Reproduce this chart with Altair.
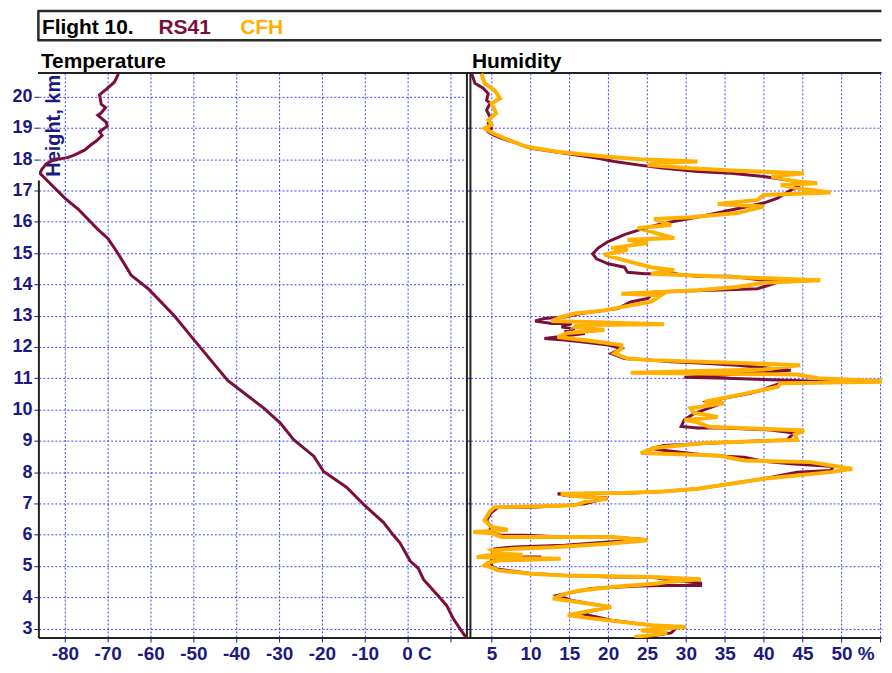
import altair as alt
import pandas as pd

# ---------------- data ----------------
temp_h = [20.73, 20.47, 20.24, 20.06, 19.76, 19.65, 19.47, 19.41, 19.18, 19.06, 18.88, 18.76,
          18.59, 18.47, 18.29, 18.14, 18.06, 18.02, 18.0, 17.86, 17.67, 17.55, 17.29, 16.76,
          16.41, 15.76, 15.46, 14.99, 14.29, 13.87, 12.99, 12.22, 10.93, 10.69, 10.04, 9.57,
          9.04, 8.51, 8.02, 7.51, 6.92, 6.39, 5.98, 5.74, 5.16, 4.92, 4.57, 4.10, 3.74, 3.33,
          2.92, 2.70]
temp_t = [-67.5, -68.4, -70.3, -71.9, -71.5, -70.5, -71.6, -72.3, -70.3, -70.1, -71.9, -71.3,
          -72.6, -73.8, -75.4, -77.7, -79.2, -80.8, -82.3, -84.3, -85.4, -85.8, -83.9, -80.0,
          -76.9, -72.3, -69.9, -67.6, -64.5, -60.6, -54.4, -49.8, -42.0, -39.7, -33.5, -29.7,
          -26.6, -21.9, -19.6, -14.2, -9.9, -5.6, -3.3, -1.8, 0.6, 2.5, 3.7, 6.8, 9.1, 10.6,
          12.6, 13.7]

rs41_h = [20.74, 20.43, 20.27, 20.10, 19.89, 19.79, 19.57, 19.36, 19.15, 18.99, 18.88, 18.78,
          18.67, 18.53, 18.35, 18.24, 18.14, 18.03, 17.93, 17.82, 17.71, 17.61, 17.55, 17.45,
          17.29, 17.18, 16.97, 16.76, 16.60, 16.44, 16.33, 16.22, 16.09, 15.96, 15.80, 15.59,
          15.37, 15.16, 14.98, 14.82, 14.66, 14.55, 14.39, 14.34, 14.34, 14.26, 14.26, 14.13,
          14.13, 13.86, 13.81, 13.76, 13.55, 13.44, 13.23, 13.17, 13.07, 12.96, 12.91, 12.83,
          12.75, 12.75, 12.64, 12.59, 12.48, 12.43, 12.35, 12.27, 12.22, 12.17, 12.06, 11.95,
          11.79, 11.63, 11.58, 11.53, 11.48, 11.42, 11.26, 11.15, 11.03, 11.00, 10.93, 10.88,
          10.86, 10.84, 10.70, 10.63, 10.52, 10.36, 10.25, 10.15, 9.88, 9.67, 9.46, 9.41, 9.41,
          9.35, 9.25, 9.03, 8.98, 8.93, 8.85, 8.76, 8.70, 8.53, 8.48, 8.35, 8.27, 8.18, 8.05,
          8.00, 7.79, 7.63, 7.47, 7.38, 7.33, 7.31, 7.25, 7.17, 7.10, 6.99, 6.93, 6.88, 6.88,
          6.72, 6.46, 6.24, 6.09, 5.98, 5.98, 5.93, 5.93, 5.84, 5.77, 5.66, 5.61, 5.55, 5.34,
          5.29, 5.29, 5.18, 5.02, 4.91, 4.76, 4.70, 4.65, 4.65, 4.55, 4.45, 4.38, 4.38, 4.36,
          4.28, 4.06, 3.90, 3.69, 3.48, 3.27, 3.11, 3.00, 2.86, 2.73]
rs41_rh = [2.44, 2.86, 3.93, 4.57, 4.36, 4.8, 4.36, 4.8, 4.57, 5.0, 4.57, 5.2,
           6.3, 8.0, 10.1, 13.1, 15.7, 18.7, 20.8, 23.8, 27.2, 31.5, 35.8, 40.0,
           44.3, 44.7, 43.2, 41.8, 40.0, 37.05, 34.9, 32.8, 30.2, 27.2, 24.7, 22.1,
           20.0, 18.7, 18.0, 18.5, 20.0, 22.1, 22.5, 24.7, 28.5, 31.5, 35.8, 40.0,
           42.6, 39.2, 33.2, 25.9, 25.1, 22.9, 21.2, 19.5, 16.5, 14.4, 11.8, 10.6,
           12.7, 15.3, 14.0, 15.7, 14.4, 17.0, 14.4, 11.8, 14.4, 16.5, 20.0, 21.7,
           20.4, 22.1, 25.5, 28.1, 32.4, 36.6, 43.5, 38.0, 29.8, 35.3, 44.0, 49.0,
           45.0, 42.2, 40.5, 40.0, 38.3, 34.9, 32.8, 34.1, 31.1, 29.8, 29.4, 31.5, 34.9,
           40.9, 43.9, 43.0, 37.9, 33.6, 27.2, 25.5, 27.0, 33.0, 37.5, 40.0, 43.5, 49.0, 48.6,
           44.3, 40.0, 35.8, 31.5, 27.2, 22.9, 13.5, 14.5, 19.9, 18.7, 17.0, 14.4, 10.1, 5.85,
           5.0, 4.36, 5.0, 4.57, 6.3, 9.3, 14.4, 20.4, 25.1, 20.0, 14.4, 8.0, 5.4, 5.0,
           8.0, 11.4, 5.0, 5.0, 5.4, 10.1, 14.4, 20.8, 25.5, 28.0, 31.9, 31.9, 27.0, 24.0,
           17.8, 13.5, 15.3, 20.0, 16.5, 20.4, 25.5, 28.7, 28.1, 24.7]

cfh_h = [20.74, 20.43, 20.20, 19.95, 19.79, 19.47, 19.26, 19.10, 18.99, 18.83, 18.67, 18.40,
         18.24, 18.09, 18.00, 17.93, 17.88, 17.82, 17.71, 17.64, 17.55, 17.45, 17.30, 17.23,
         17.18, 17.05, 16.94, 16.86, 16.70, 16.57, 16.49, 16.28, 16.15, 16.09, 15.90, 15.80,
         15.48, 15.43, 15.32, 15.16, 15.10, 14.95, 14.77, 14.55, 14.45, 14.34, 14.24, 14.18,
         14.13, 14.05, 13.92, 13.81, 13.70, 13.65, 13.44, 13.33, 13.17, 13.07, 12.96, 12.83,
         12.73, 12.70, 12.64, 12.54, 12.45, 12.32, 12.17, 12.06, 11.95, 11.80, 11.63, 11.58,
         11.48, 11.42, 11.28, 11.18, 11.12, 11.00, 10.89, 10.84, 10.73, 10.50, 10.25, 10.20,
         10.04, 9.90, 9.76, 9.67, 9.59, 9.45, 9.33, 9.20, 9.03, 8.93, 8.77, 8.61, 8.53, 8.37,
         8.32, 8.11, 8.00, 7.79, 7.63, 7.47, 7.38, 7.33, 7.31, 7.25, 7.15, 7.05, 6.94, 6.90,
         6.88, 6.75, 6.46, 6.25, 6.16, 6.12, 6.09, 6.05, 5.93, 5.93, 5.82, 5.71, 5.60, 5.55,
         5.50, 5.40, 5.36, 5.34, 5.29, 5.26, 5.23, 5.18, 5.10, 5.02, 4.95, 4.86, 4.75, 4.70,
         4.65, 4.58, 4.50, 4.44, 4.33, 4.20, 4.10, 3.96, 3.85, 3.69, 3.43, 3.35, 3.11, 3.05,
         3.00, 2.94, 2.86, 2.73]
cfh_rh = [3.7, 4.1, 5.4, 6.1, 5.0, 5.6, 4.6, 5.0, 4.1, 5.2, 6.7, 9.5,
          13.5, 19.5, 24.0, 31.5, 26.0, 25.1, 30.6, 35.8, 45.2, 41.0, 44.0, 46.9,
          42.2, 45.0, 48.6, 40.0, 39.2, 34.1, 40.0, 36.6, 30.6, 25.9, 28.1, 23.8,
          28.5, 22.5, 25.1, 20.4, 22.5, 19.5, 22.1, 25.5, 28.5, 25.5, 35.8, 42.2,
          47.3, 40.0, 36.6, 31.5, 21.7, 26.8, 25.5, 22.9, 19.5, 15.7, 14.0, 12.7,
          27.2, 16.0, 15.7, 19.5, 14.8, 13.5, 18.7, 21.7, 21.7, 20.8, 22.5, 25.5,
          37.9, 44.7, 40.0, 22.9, 44.3, 47.0, 56.3, 42.2, 41.8, 37.5, 32.4, 34.9,
          30.6, 31.0, 34.1, 29.8, 31.5, 33.0, 45.2, 44.0, 44.3, 32.4, 25.9, 24.2, 34.1, 37.5,
          46.0, 51.4, 48.6, 40.0, 35.8, 31.5, 27.0, 22.0, 13.9, 15.0, 19.9, 17.0, 15.7, 10.0,
          5.4, 4.8, 4.1, 5.0, 7.1, 5.0, 2.65, 5.0, 6.3, 20.4, 25.1, 20.0, 13.0, 8.0,
          5.0, 5.5, 9.0, 4.5, 3.1, 6.0, 13.9, 6.0, 4.5, 4.1, 5.0, 5.85, 10.0, 14.4,
          25.5, 31.9, 28.0, 26.3, 20.4, 16.0, 14.4, 12.9, 16.0, 20.4, 14.8, 17.0, 25.5, 30.0,
          27.0, 24.2, 27.6, 23.4]

height_ticks = list(range(3, 21))
temp_ticks = list(range(-80, 11, 10))
hum_ticks = list(range(5, 56, 5))

# ---------------- layout / style ----------------
W1, GAP, W2, H = 429.5, 3, 413, 567
YDOM = [2.70, 20.76]
TDOM = [-86.05, 13.84]
HDOM = [2.28, 55.23]
FONT = "Liberation Sans"
NAVY = "#1a1a80"
MAROON = "#7a0f3c"
ORANGE = "#ffb000"
GRID = "#4040ff"
BORDER = "#222222"

one = pd.DataFrame({"a": [0]})
yscale = alt.Scale(domain=YDOM, nice=False, zero=False)


def vrule(x, y1, y2, color=BORDER, w=2):
    return alt.Chart(one).mark_rule(color=color, strokeWidth=w).encode(
        x=alt.value(x), y=alt.value(y1), y2=alt.value(y2))


def hrule(y, x1, x2, color=BORDER, w=2):
    return alt.Chart(one).mark_rule(color=color, strokeWidth=w).encode(
        y=alt.value(y), x=alt.value(x1), x2=alt.value(x2))


def txt(s, x, y, size, color, angle=0, align="left", baseline="alphabetic"):
    return alt.Chart(one).mark_text(
        text=s, font=FONT, fontSize=size, fontWeight="bold", color=color,
        align=align, baseline=baseline, angle=angle
    ).encode(x=alt.value(x), y=alt.value(y))


def xaxis(values, expr, align_expr, offset_expr):
    return alt.Axis(values=values, title=None, labelExpr=expr,
                    labelAlign={"expr": align_expr}, labelOffset={"expr": offset_expr},
                    labelFont=FONT, labelFontSize=19, labelFontWeight="bold",
                    labelColor=NAVY, labelPadding=3, labelOverlap=False,
                    labelFlush=False, tickColor=NAVY, tickSize=4, domain=False,
                    grid=True, gridColor=GRID, gridDash=[2, 2], gridWidth=1)


# ---------------- temperature panel ----------------
tdf = pd.DataFrame({"i": range(len(temp_h)), "h": temp_h, "t": temp_t})
temp_line = alt.Chart(tdf).mark_line(color=MAROON, strokeWidth=3, clip=True).encode(
    x=alt.X("t:Q", scale=alt.Scale(domain=TDOM, nice=False, zero=False),
            axis=xaxis(temp_ticks,
                       "datum.value == 10 ? '' : (datum.value == 0 ? '0 C' : '' + datum.value)",
                       "datum.value == 0 ? 'left' : 'center'",
                       "datum.value == 0 ? -6 : 0")),
    y=alt.Y("h:Q", scale=yscale,
            axis=alt.Axis(values=height_ticks, title=None, labelFont=FONT,
                          labelFontSize=18, labelFontWeight="bold", labelColor=NAVY,
                          labelPadding=2, labelFlush=False, labelOverlap=False,
                          tickColor=NAVY, tickSize=5, domain=False,
                          grid=True, gridColor=GRID, gridDash=[2, 2], gridWidth=1)),
    order="i:Q",
)

full = W1 + GAP + W2
temp_panel = alt.layer(
    vrule(-30, 0, 1, color="white", w=1),
    hrule(0, -1, full),
    hrule(H, 0, full),
    vrule(0, 108, H),
    vrule(W1, 0, H),
    # title box (open on the right, as it runs past the window edge)
    hrule(-62, -1.5, full, color="#2a2a2a", w=2.5),
    hrule(-32.7, -1.5, full, color="#2a2a2a", w=2.5),
    vrule(-0.5, -62, -32.7, color="#2a2a2a", w=2.5),
    txt("Flight 10.", 3, -39.5, 21, "black"),
    txt("RS41", 120, -39.5, 21, MAROON),
    txt("CFH", 202, -39.5, 21, ORANGE),
    txt("Temperature", 2, -5, 21, "black"),
    txt("Height, km", 15.5, 2, 20, NAVY, angle=270, align="right", baseline="middle"),
    temp_line,
).properties(width=W1, height=H)

# ---------------- humidity panel ----------------
rdf = pd.DataFrame({"i": range(len(rs41_h)), "h": rs41_h, "rh": rs41_rh})
cdf = pd.DataFrame({"i": range(len(cfh_h)), "h": cfh_h, "rh": cfh_rh})
hscale = alt.Scale(domain=HDOM, nice=False, zero=False)

rs_line = alt.Chart(rdf).mark_line(color=MAROON, strokeWidth=3, clip=True).encode(
    x=alt.X("rh:Q", scale=hscale,
            axis=xaxis(hum_ticks,
                       "datum.value == 55 ? '' : (datum.value == 50 ? '50 %' : '' + datum.value)",
                       "datum.value == 50 ? 'left' : 'center'",
                       "datum.value == 50 ? -10.5 : 0")),
    y=alt.Y("h:Q", scale=yscale,
            axis=alt.Axis(values=height_ticks, title=None, labels=False,
                          tickColor=NAVY, tickSize=4, domain=False,
                          grid=True, gridColor=GRID, gridDash=[2, 2], gridWidth=1)),
    order="i:Q",
)
cfh_line = alt.Chart(cdf).mark_line(color=ORANGE, strokeWidth=4, clip=True).encode(
    x=alt.X("rh:Q", scale=hscale), y=alt.Y("h:Q", scale=yscale), order="i:Q")

hum_panel = alt.layer(
    vrule(0, 0, H),
    txt("Humidity", 1.5, -5, 21, "black"),
    rs_line,
    cfh_line,
).properties(width=W2, height=H)

chart = alt.hconcat(temp_panel, hum_panel, spacing=GAP, bounds="flush").properties(
    padding=0
).configure_view(stroke="transparent")

chart.save("out.html", embed_options={"renderer": "svg", "actions": False})
